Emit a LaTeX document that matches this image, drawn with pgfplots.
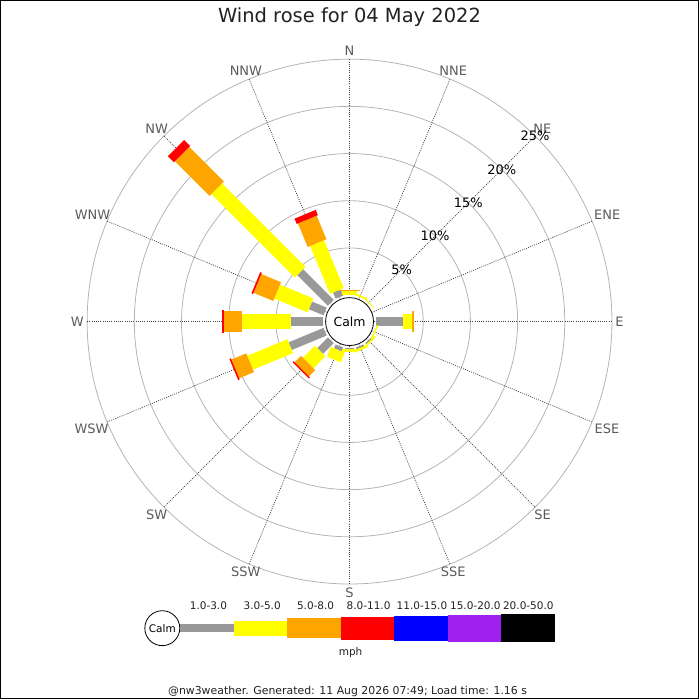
\documentclass[border=0pt]{standalone}
\usepackage{pgfplots}
\pgfplotsset{compat=1.18}
\usepackage{pgfplotstable}
\usepackage{fontspec}
\setmainfont{DejaVu Sans}
\definecolor{cgray}{HTML}{999999}
\definecolor{cyellow}{HTML}{FFFF00}
\definecolor{corange}{HTML}{FFA500}
\definecolor{cred}{HTML}{FF0000}
\definecolor{cblue}{HTML}{0000FF}
\definecolor{cpurple}{HTML}{A020F0}
\definecolor{ringc}{HTML}{B4B4B4}
\definecolor{lblc}{HTML}{5A5A5A}
\tikzset{
  lbl/.style={font=\fontsize{13}{15}\selectfont, text=lblc, inner sep=0pt},
  pct/.style={font=\fontsize{13}{15}\selectfont, text=black, inner sep=0pt},
}

% cumulative percentage at the end of each speed band
% c1: 1-3 mph, c2: 3-5, c3: 5-8, c4: 8-11
\pgfplotstableread{
ang c0 c1 c2 c3 c4
0     0 0.00 0.40 0.58 0.58
22.5  0 0.00 0.20 0.20 0.20
45    0 0.00 0.10 0.10 0.10
90    0 2.84 3.83 4.00 4.00
112.5 0 0.00 0.15 0.15 0.15
135   0 0.15 0.35 0.35 0.35
157.5 0 0.20 0.45 0.45 0.45
180   0 0.05 0.45 0.45 0.45
202.5 0 0.43 1.55 1.55 1.55
225   0 1.60 3.40 4.35 4.50
247.5 0 4.00 8.60 10.30 10.47
270   0 3.37 8.55 10.53 10.67
292.5 0 1.68 5.50 7.76 7.94
315   0 4.60 17.10 22.30 23.20
337.5 0 0.70 6.20 8.90 9.50
}\rosetab

\newcommand{\band}[4]{% color, width, lo col, hi col
\addplot[#1, line width=#2, line cap=butt, mark=none,
  quiver={u={9.45*(\thisrow{#4}-\thisrow{#3})*sin(\thisrow{ang})},
          v={9.45*(\thisrow{#4}-\thisrow{#3})*cos(\thisrow{ang})},
          every arrow/.append style={line width=#2, line cap=butt}}]
  table[x expr={(26.5+9.45*\thisrow{#3})*sin(\thisrow{ang})},
        y expr={(26.5+9.45*\thisrow{#3})*cos(\thisrow{ang})}] {\rosetab};
}

\begin{document}
\begin{tikzpicture}
\begin{axis}[
  width=700pt, height=700pt, scale only axis,
  xmin=-350, xmax=350, ymin=-378, ymax=322,
  hide axis, clip=false,
]
% frame
\draw[black, line width=1pt] (axis cs:-349.5,-377.5) rectangle (axis cs:349.5,321.5);
% rings
\pgfplotsinvokeforeach{73.75,121,168.25,215.5,262.75}{
  \draw[ringc, line width=0.8pt] (axis cs:0,0) circle[radius=#1pt];
}
% direction lines
\pgfplotsinvokeforeach{0,22.5,45,67.5,90,112.5,135,157.5,180,202.5,225,247.5,270,292.5,315,337.5}{
  \draw[black!75, line width=0.7pt, dash pattern=on 1pt off 1.2pt]
    (axis cs:{24*sin(#1)},{24*cos(#1)}) -- (axis cs:{262.75*sin(#1)},{262.75*cos(#1)});
}
% calm circle
\draw[black, line width=0.8pt, fill=white] (axis cs:0,0) circle[radius=24pt];
\node[font=\fontsize{12.5}{14}\selectfont] at (axis cs:0,0) {Calm};

% bars
\band{cgray}{8.3pt}{c0}{c1}
\band{cyellow}{15pt}{c1}{c2}
\band{corange}{20.3pt}{c2}{c3}
\band{cred}{23pt}{c3}{c4}

% direction labels
\node[lbl, anchor=270] at (axis cs:0,266) {N};
\node[lbl, anchor=247.5] at (axis cs:101.79,245.75) {NNE};
\node[lbl, anchor=225] at (axis cs:188.09,188.09) {NE};
\node[lbl, anchor=202.5] at (axis cs:245.75,101.79) {ENE};
\node[lbl, anchor=180] at (axis cs:266,0) {E};
\node[lbl, anchor=157.5] at (axis cs:245.75,-101.79) {ESE};
\node[lbl, anchor=135] at (axis cs:188.09,-188.09) {SE};
\node[lbl, anchor=112.5] at (axis cs:101.79,-245.75) {SSE};
\node[lbl, anchor=90] at (axis cs:0,-266) {S};
\node[lbl, anchor=67.5] at (axis cs:-101.79,-245.75) {SSW};
\node[lbl, anchor=45] at (axis cs:-188.09,-188.09) {SW};
\node[lbl, anchor=22.5] at (axis cs:-245.75,-101.79) {WSW};
\node[lbl, anchor=0] at (axis cs:-266,0) {W};
\node[lbl, anchor=337.5] at (axis cs:-245.75,101.79) {WNW};
\node[lbl, anchor=315] at (axis cs:-188.09,188.09) {NW};
\node[lbl, anchor=292.5] at (axis cs:-101.79,245.75) {NNW};

% percentage labels
\node[pct] at (axis cs:52.15,52.15) {5\%};
\node[pct] at (axis cs:85.56,85.56) {10\%};
\node[pct] at (axis cs:118.97,118.97) {15\%};
\node[pct] at (axis cs:152.38,152.38) {20\%};
\node[pct] at (axis cs:185.79,185.79) {25\%};

% title
\node[font=\fontsize{19.5}{22}\selectfont, text=black!87] at (axis cs:0,305) {Wind rose for 04 May 2022};

% legend
\draw[black, line width=0.8pt, fill=white] (axis cs:-187.5,-307) circle[radius=17.5pt];
\node[font=\fontsize{10.5}{12}\selectfont] at (axis cs:-187.5,-307) {Calm};
\fill[cgray]   (axis cs:-170,-311.2)   rectangle (axis cs:-115.7,-302.9);
\fill[cyellow] (axis cs:-115.7,-314.5) rectangle (axis cs:-62.3,-299.5);
\fill[corange] (axis cs:-62.3,-317.2)  rectangle (axis cs:-8.3,-296.8);
\fill[cred]    (axis cs:-8.3,-318.5)   rectangle (axis cs:45,-295.5);
\fill[cblue]   (axis cs:45,-319.5)     rectangle (axis cs:98.7,-294.5);
\fill[cpurple] (axis cs:98.7,-320.5)   rectangle (axis cs:151.7,-293.5);
\fill[black]   (axis cs:151.7,-321.2)  rectangle (axis cs:206,-292.8);
\begin{scope}[every node/.style={font=\fontsize{10.5}{12}\selectfont, text=black!87}]
\node at (axis cs:-141.3,-284.7) {1.0-3.0};
\node at (axis cs:-87.5,-284.7) {3.0-5.0};
\node at (axis cs:-34,-284.7) {5.0-8.0};
\node at (axis cs:19,-284.7) {8.0-11.0};
\node at (axis cs:72.5,-284.7) {11.0-15.0};
\node at (axis cs:126,-284.7) {15.0-20.0};
\node at (axis cs:179,-284.7) {20.0-50.0};
\node at (axis cs:1,-331.3) {mph};
\end{scope}
% footer
\node[font=\fontsize{10.9}{12}\selectfont, text=black!87] at (axis cs:-2,-370.3) {@nw3weather. Generated: 11 Aug 2026 07:49; Load time: 1.16 s};
\end{axis}
\end{tikzpicture}
\end{document}
